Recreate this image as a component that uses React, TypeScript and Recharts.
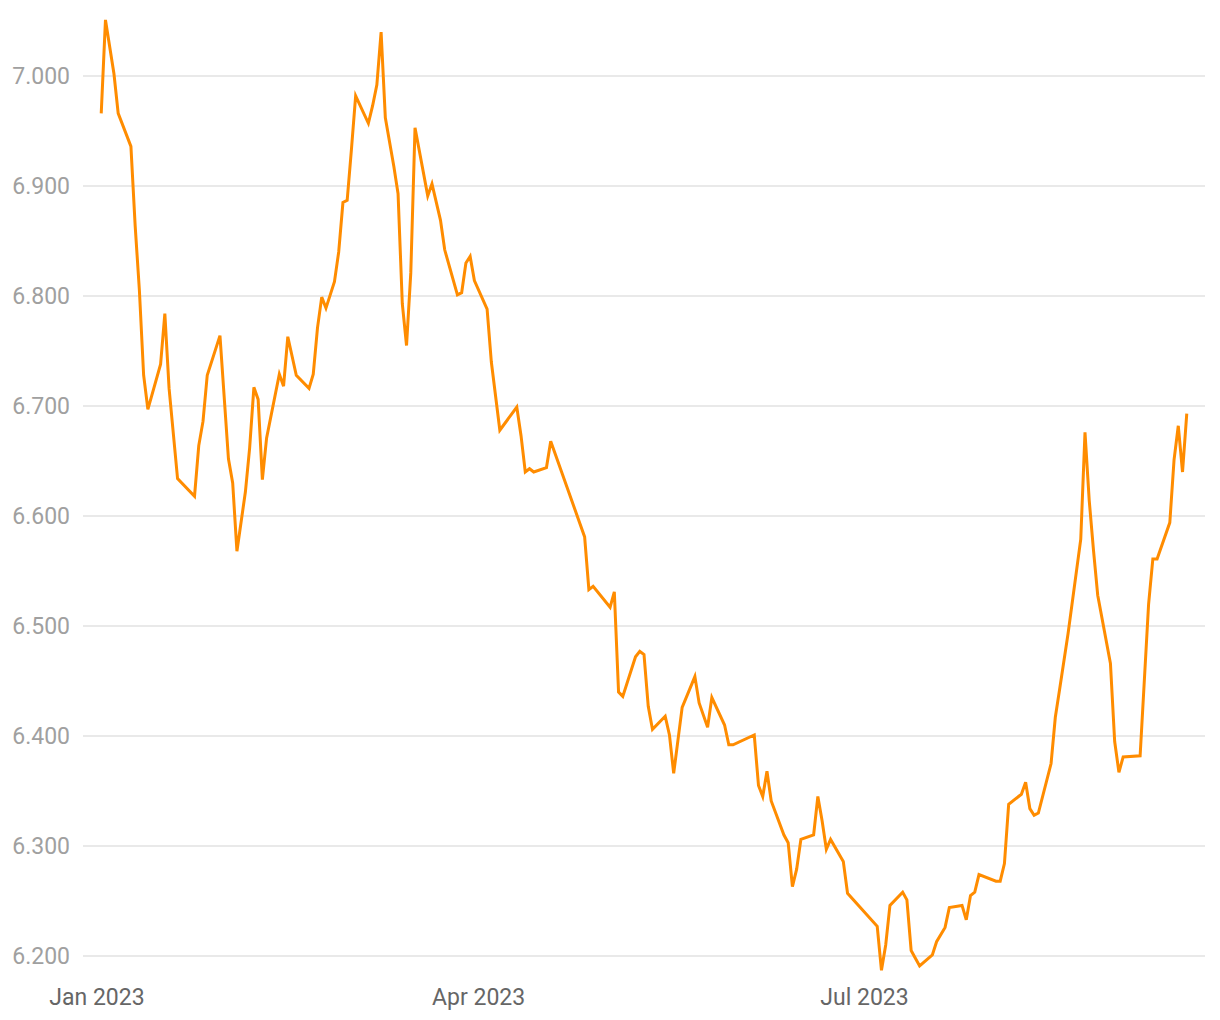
import { LineChart, Line, XAxis, YAxis, CartesianGrid } from 'recharts';

// trading days (2023) and closing values
const DATES = [
    '01-02', '01-03', '01-05', '01-06', '01-09', '01-10', '01-11', '01-12', '01-13', '01-16',
    '01-17', '01-18', '01-20', '01-24', '01-25', '01-26', '01-27', '01-30', '02-01', '02-02',
    '02-03', '02-05', '02-06', '02-07', '02-08', '02-09', '02-10', '02-13', '02-14', '02-15',
    '02-17', '02-20', '02-21', '02-22', '02-23', '02-24', '02-26', '02-27', '02-28', '03-01',
    '03-02', '03-03', '03-06', '03-07', '03-08', '03-09', '03-10', '03-12', '03-13', '03-14',
    '03-15', '03-16', '03-17', '03-20', '03-21', '03-23', '03-24', '03-27', '03-28', '03-29',
    '03-30', '03-31', '04-03', '04-04', '04-06', '04-10', '04-11', '04-12', '04-13', '04-14',
    '04-17', '04-18', '04-26', '04-27', '04-28', '05-02', '05-03', '05-04', '05-05', '05-08',
    '05-09', '05-10', '05-11', '05-12', '05-15', '05-16', '05-17', '05-18', '05-19', '05-22',
    '05-23', '05-25', '05-26', '05-29', '05-30', '05-31', '06-05', '06-06', '06-07', '06-08',
    '06-09', '06-12', '06-13', '06-14', '06-15', '06-16', '06-19', '06-20', '06-21', '06-22',
    '06-23', '06-26', '06-27', '07-04', '07-05', '07-06', '07-07', '07-10', '07-11', '07-12',
    '07-13', '07-14', '07-17', '07-18', '07-20', '07-21', '07-24', '07-25', '07-26', '07-27',
    '07-28', '08-01', '08-02', '08-03', '08-04', '08-07', '08-08', '08-09', '08-10', '08-11',
    '08-14', '08-15', '08-16', '08-18', '08-21', '08-22', '08-23', '08-24', '08-25', '08-28',
    '08-29', '08-30', '08-31', '09-04', '09-06', '09-07', '09-08', '09-11', '09-12', '09-13',
    '09-14', '09-15',
];

const VALUES = [
    6.966, 7.051, 7.002, 6.966, 6.936, 6.864, 6.805, 6.728, 6.697, 6.738,
    6.784, 6.716, 6.634, 6.618, 6.664, 6.686, 6.728, 6.764, 6.652, 6.630,
    6.568, 6.622, 6.662, 6.717, 6.706, 6.633, 6.671, 6.729, 6.718, 6.763,
    6.728, 6.716, 6.729, 6.771, 6.799, 6.789, 6.813, 6.840, 6.885, 6.887,
    6.933, 6.982, 6.957, 6.973, 6.992, 7.040, 6.962, 6.918, 6.893, 6.793,
    6.755, 6.821, 6.953, 6.891, 6.902, 6.869, 6.842, 6.801, 6.803, 6.830,
    6.836, 6.814, 6.788, 6.740, 6.678, 6.699, 6.673, 6.640, 6.643, 6.640,
    6.644, 6.668, 6.581, 6.533, 6.536, 6.517, 6.531, 6.440, 6.436, 6.472,
    6.477, 6.474, 6.427, 6.406, 6.418, 6.401, 6.366, 6.396, 6.426, 6.454,
    6.430, 6.408, 6.435, 6.410, 6.392, 6.392, 6.401, 6.355, 6.345, 6.368,
    6.341, 6.310, 6.303, 6.263, 6.279, 6.306, 6.310, 6.345, 6.323, 6.297,
    6.306, 6.286, 6.257, 6.227, 6.187, 6.210, 6.246, 6.258, 6.251, 6.205,
    6.198, 6.191, 6.201, 6.213, 6.226, 6.244, 6.246, 6.233, 6.255, 6.258,
    6.274, 6.268, 6.268, 6.284, 6.338, 6.347, 6.358, 6.334, 6.328, 6.330,
    6.375, 6.417, 6.442, 6.493, 6.579, 6.676, 6.614, 6.569, 6.528, 6.466,
    6.395, 6.367, 6.381, 6.382, 6.520, 6.561, 6.561, 6.594, 6.651, 6.682,
    6.640, 6.693,
];

const X_TICKS = ['01-01', '04-01', '07-01'];
const Y_TICKS = [6.2, 6.3, 6.4, 6.5, 6.6, 6.7, 6.8, 6.9, 7.0];
const MONTHS = ['Jan', 'Feb', 'Mar', 'Apr', 'May', 'Jun', 'Jul', 'Aug', 'Sep', 'Oct', 'Nov', 'Dec'];

const DAY = 86400000;
const toTime = (md: string) => {
    const [m, d] = md.split('-').map(Number);
    return Date.UTC(2023, m - 1, d);
};

const data = DATES.map((d, i) => ({ t: toTime(d), value: VALUES[i] }));
const start = toTime('01-01');

const formatTick = (t: number) => {
    const dt = new Date(t);
    return `${MONTHS[dt.getUTCMonth()]} ${dt.getUTCFullYear()}`;
};

export default function App() {
    return (
        <div style={{ width: 1212, height: 1004, fontFamily: 'Roboto, sans-serif' }}>
            <LineChart width={1212} height={1004} data={data} margin={{ top: 2, right: 15, bottom: 0, left: 0 }}>
                <CartesianGrid vertical={false} horizontalValues={Y_TICKS} stroke="#e2e2e2" strokeWidth={1.5} />
                <XAxis
                    dataKey="t"
                    type="number"
                    domain={[start - 3.3 * DAY, start + 261.3 * DAY]}
                    ticks={X_TICKS.map(toTime)}
                    tickFormatter={formatTick}
                    axisLine={false}
                    tickLine={false}
                    tickSize={0}
                    tickMargin={11}
                    height={34}
                    tick={{ fill: '#666666', fontSize: 23 }}
                />
                <YAxis
                    type="number"
                    domain={[6.18, 7.06]}
                    ticks={Y_TICKS}
                    tickFormatter={(v: number) => v.toFixed(3)}
                    axisLine={false}
                    tickLine={false}
                    tickSize={0}
                    tickMargin={13}
                    width={75}
                    tick={{ fill: '#a0a0a0', fontSize: 23 }}
                />
                <Line
                    type="linear"
                    dataKey="value"
                    stroke="#ff8c00"
                    strokeWidth={3}
                    dot={false}
                    isAnimationActive={false}
                />
            </LineChart>
        </div>
    );
}
